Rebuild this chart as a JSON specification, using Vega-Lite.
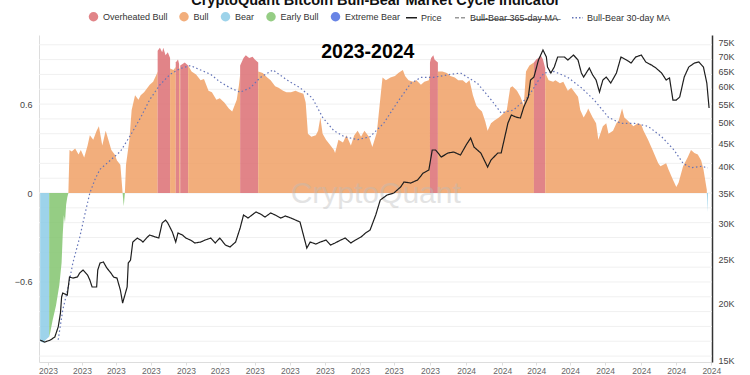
{
  "$schema": "https://vega.github.io/schema/vega-lite/v6.json",
  "width": 673,
  "height": 327,
  "autosize": "none",
  "padding": {"left": 39, "top": 35, "right": 38, "bottom": 13},
  "background": "white",
  "config": {"view": {"stroke": null}, "font": "Liberation Sans", "axis": {"labelOverlap": false}, "axisX": {"labelOverlap": false}},
  "datasets": {
    "ind": [
      {"d":"2022-12-25","v":-1.0,"r":"Bear","s":1},
      {"d":"2022-12-28","v":-1.01,"r":"Bear","s":1},
      {"d":"2022-12-30","v":-0.99,"r":"Bear","s":1},
      {"d":"2023-01-02","v":-0.97,"r":"Bear","s":1},
      {"d":"2023-01-02","v":-0.97,"r":"Early Bull","s":2},
      {"d":"2023-01-03","v":-0.94,"r":"Early Bull","s":2},
      {"d":"2023-01-05","v":-0.86,"r":"Early Bull","s":2},
      {"d":"2023-01-08","v":-0.76,"r":"Early Bull","s":2},
      {"d":"2023-01-11","v":-0.62,"r":"Early Bull","s":2},
      {"d":"2023-01-13","v":-0.47,"r":"Early Bull","s":2},
      {"d":"2023-01-14","v":-0.28,"r":"Early Bull","s":2},
      {"d":"2023-01-15","v":-0.15,"r":"Early Bull","s":2},
      {"d":"2023-01-16","v":-0.2,"r":"Early Bull","s":2},
      {"d":"2023-01-17","v":-0.08,"r":"Early Bull","s":2},
      {"d":"2023-01-18","v":-0.03,"r":"Early Bull","s":2},
      {"d":"2023-01-19","v":0,"r":"Early Bull","s":2},
      {"d":"2023-01-19","v":0,"r":"Bull","s":3},
      {"d":"2023-01-20","v":0.29,"r":"Bull","s":3},
      {"d":"2023-01-22","v":0.28,"r":"Bull","s":3},
      {"d":"2023-01-25","v":0.3,"r":"Bull","s":3},
      {"d":"2023-01-28","v":0.26,"r":"Bull","s":3},
      {"d":"2023-01-30","v":0.29,"r":"Bull","s":3},
      {"d":"2023-02-02","v":0.24,"r":"Bull","s":3},
      {"d":"2023-02-05","v":0.32,"r":"Bull","s":3},
      {"d":"2023-02-07","v":0.39,"r":"Bull","s":3},
      {"d":"2023-02-10","v":0.36,"r":"Bull","s":3},
      {"d":"2023-02-13","v":0.42,"r":"Bull","s":3},
      {"d":"2023-02-15","v":0.45,"r":"Bull","s":3},
      {"d":"2023-02-18","v":0.32,"r":"Bull","s":3},
      {"d":"2023-02-21","v":0.42,"r":"Bull","s":3},
      {"d":"2023-02-23","v":0.37,"r":"Bull","s":3},
      {"d":"2023-02-26","v":0.29,"r":"Bull","s":3},
      {"d":"2023-03-01","v":0.26,"r":"Bull","s":3},
      {"d":"2023-03-03","v":0.22,"r":"Bull","s":3},
      {"d":"2023-03-06","v":0.19,"r":"Bull","s":3},
      {"d":"2023-03-08","v":0,"r":"Bull","s":3},
      {"d":"2023-03-08","v":0,"r":"Early Bull","s":4},
      {"d":"2023-03-09","v":-0.09,"r":"Early Bull","s":4},
      {"d":"2023-03-10","v":0,"r":"Early Bull","s":4},
      {"d":"2023-03-10","v":0,"r":"Bull","s":5},
      {"d":"2023-03-11","v":0.19,"r":"Bull","s":5},
      {"d":"2023-03-14","v":0.36,"r":"Bull","s":5},
      {"d":"2023-03-16","v":0.56,"r":"Bull","s":5},
      {"d":"2023-03-19","v":0.66,"r":"Bull","s":5},
      {"d":"2023-03-22","v":0.63,"r":"Bull","s":5},
      {"d":"2023-03-24","v":0.66,"r":"Bull","s":5},
      {"d":"2023-03-27","v":0.68,"r":"Bull","s":5},
      {"d":"2023-03-30","v":0.71,"r":"Bull","s":5},
      {"d":"2023-04-01","v":0.73,"r":"Bull","s":5},
      {"d":"2023-04-04","v":0.75,"r":"Bull","s":5},
      {"d":"2023-04-07","v":0.8,"r":"Bull","s":5},
      {"d":"2023-04-08","v":0.82,"r":"Bull","s":5},
      {"d":"2023-04-08","v":0.96,"r":"Overheated Bull","s":6},
      {"d":"2023-04-10","v":0.98,"r":"Overheated Bull","s":6},
      {"d":"2023-04-12","v":0.95,"r":"Overheated Bull","s":6},
      {"d":"2023-04-13","v":0.98,"r":"Overheated Bull","s":6},
      {"d":"2023-04-15","v":0.93,"r":"Overheated Bull","s":6},
      {"d":"2023-04-17","v":0.95,"r":"Overheated Bull","s":6},
      {"d":"2023-04-19","v":0.91,"r":"Overheated Bull","s":6},
      {"d":"2023-04-19","v":0.84,"r":"Bull","s":7},
      {"d":"2023-04-22","v":0.83,"r":"Bull","s":7},
      {"d":"2023-04-24","v":0.85,"r":"Bull","s":7},
      {"d":"2023-04-24","v":0.88,"r":"Overheated Bull","s":8},
      {"d":"2023-04-26","v":0.9,"r":"Overheated Bull","s":8},
      {"d":"2023-04-27","v":0.87,"r":"Overheated Bull","s":8},
      {"d":"2023-04-27","v":0.84,"r":"Bull","s":9},
      {"d":"2023-04-28","v":0.84,"r":"Bull","s":9},
      {"d":"2023-04-28","v":0.86,"r":"Overheated Bull","s":10},
      {"d":"2023-05-02","v":0.88,"r":"Overheated Bull","s":10},
      {"d":"2023-05-05","v":0.86,"r":"Overheated Bull","s":10},
      {"d":"2023-05-05","v":0.86,"r":"Bull","s":11},
      {"d":"2023-05-08","v":0.82,"r":"Bull","s":11},
      {"d":"2023-05-12","v":0.8,"r":"Bull","s":11},
      {"d":"2023-05-16","v":0.76,"r":"Bull","s":11},
      {"d":"2023-05-19","v":0.77,"r":"Bull","s":11},
      {"d":"2023-05-23","v":0.69,"r":"Bull","s":11},
      {"d":"2023-05-26","v":0.68,"r":"Bull","s":11},
      {"d":"2023-05-30","v":0.63,"r":"Bull","s":11},
      {"d":"2023-06-02","v":0.64,"r":"Bull","s":11},
      {"d":"2023-06-06","v":0.61,"r":"Bull","s":11},
      {"d":"2023-06-10","v":0.57,"r":"Bull","s":11},
      {"d":"2023-06-13","v":0.55,"r":"Bull","s":11},
      {"d":"2023-06-17","v":0.63,"r":"Bull","s":11},
      {"d":"2023-06-19","v":0.73,"r":"Bull","s":11},
      {"d":"2023-06-20","v":0.8,"r":"Bull","s":11},
      {"d":"2023-06-20","v":0.86,"r":"Overheated Bull","s":12},
      {"d":"2023-06-23","v":0.91,"r":"Overheated Bull","s":12},
      {"d":"2023-06-25","v":0.93,"r":"Overheated Bull","s":12},
      {"d":"2023-06-28","v":0.91,"r":"Overheated Bull","s":12},
      {"d":"2023-07-01","v":0.92,"r":"Overheated Bull","s":12},
      {"d":"2023-07-03","v":0.9,"r":"Overheated Bull","s":12},
      {"d":"2023-07-06","v":0.88,"r":"Overheated Bull","s":12},
      {"d":"2023-07-06","v":0.82,"r":"Bull","s":13},
      {"d":"2023-07-10","v":0.81,"r":"Bull","s":13},
      {"d":"2023-07-14","v":0.78,"r":"Bull","s":13},
      {"d":"2023-07-17","v":0.76,"r":"Bull","s":13},
      {"d":"2023-07-21","v":0.72,"r":"Bull","s":13},
      {"d":"2023-07-24","v":0.71,"r":"Bull","s":13},
      {"d":"2023-07-28","v":0.69,"r":"Bull","s":13},
      {"d":"2023-07-31","v":0.68,"r":"Bull","s":13},
      {"d":"2023-08-04","v":0.68,"r":"Bull","s":13},
      {"d":"2023-08-08","v":0.69,"r":"Bull","s":13},
      {"d":"2023-08-11","v":0.68,"r":"Bull","s":13},
      {"d":"2023-08-15","v":0.67,"r":"Bull","s":13},
      {"d":"2023-08-17","v":0.61,"r":"Bull","s":13},
      {"d":"2023-08-19","v":0.4,"r":"Bull","s":13},
      {"d":"2023-08-22","v":0.38,"r":"Bull","s":13},
      {"d":"2023-08-26","v":0.39,"r":"Bull","s":13},
      {"d":"2023-08-28","v":0.42,"r":"Bull","s":13},
      {"d":"2023-08-30","v":0.51,"r":"Bull","s":13},
      {"d":"2023-09-01","v":0.4,"r":"Bull","s":13},
      {"d":"2023-09-04","v":0.36,"r":"Bull","s":13},
      {"d":"2023-09-08","v":0.32,"r":"Bull","s":13},
      {"d":"2023-09-11","v":0.29,"r":"Bull","s":13},
      {"d":"2023-09-12","v":0.27,"r":"Bull","s":13},
      {"d":"2023-09-15","v":0.36,"r":"Bull","s":13},
      {"d":"2023-09-19","v":0.34,"r":"Bull","s":13},
      {"d":"2023-09-22","v":0.39,"r":"Bull","s":13},
      {"d":"2023-09-26","v":0.32,"r":"Bull","s":13},
      {"d":"2023-09-29","v":0.39,"r":"Bull","s":13},
      {"d":"2023-10-02","v":0.42,"r":"Bull","s":13},
      {"d":"2023-10-05","v":0.38,"r":"Bull","s":13},
      {"d":"2023-10-08","v":0.42,"r":"Bull","s":13},
      {"d":"2023-10-12","v":0.38,"r":"Bull","s":13},
      {"d":"2023-10-15","v":0.31,"r":"Bull","s":13},
      {"d":"2023-10-19","v":0.41,"r":"Bull","s":13},
      {"d":"2023-10-21","v":0.56,"r":"Bull","s":13},
      {"d":"2023-10-24","v":0.78,"r":"Bull","s":13},
      {"d":"2023-10-27","v":0.76,"r":"Bull","s":13},
      {"d":"2023-10-31","v":0.78,"r":"Bull","s":13},
      {"d":"2023-11-04","v":0.79,"r":"Bull","s":13},
      {"d":"2023-11-07","v":0.81,"r":"Bull","s":13},
      {"d":"2023-11-11","v":0.83,"r":"Bull","s":13},
      {"d":"2023-11-13","v":0.79,"r":"Bull","s":13},
      {"d":"2023-11-16","v":0.76,"r":"Bull","s":13},
      {"d":"2023-11-20","v":0.75,"r":"Bull","s":13},
      {"d":"2023-11-23","v":0.76,"r":"Bull","s":13},
      {"d":"2023-11-27","v":0.73,"r":"Bull","s":13},
      {"d":"2023-11-30","v":0.75,"r":"Bull","s":13},
      {"d":"2023-12-04","v":0.76,"r":"Bull","s":13},
      {"d":"2023-12-05","v":0.8,"r":"Bull","s":13},
      {"d":"2023-12-05","v":0.88,"r":"Overheated Bull","s":14},
      {"d":"2023-12-06","v":0.91,"r":"Overheated Bull","s":14},
      {"d":"2023-12-08","v":0.93,"r":"Overheated Bull","s":14},
      {"d":"2023-12-09","v":0.9,"r":"Overheated Bull","s":14},
      {"d":"2023-12-12","v":0.88,"r":"Overheated Bull","s":14},
      {"d":"2023-12-12","v":0.82,"r":"Bull","s":15},
      {"d":"2023-12-16","v":0.82,"r":"Bull","s":15},
      {"d":"2023-12-20","v":0.81,"r":"Bull","s":15},
      {"d":"2023-12-23","v":0.79,"r":"Bull","s":15},
      {"d":"2023-12-27","v":0.78,"r":"Bull","s":15},
      {"d":"2023-12-30","v":0.76,"r":"Bull","s":15},
      {"d":"2024-01-03","v":0.76,"r":"Bull","s":15},
      {"d":"2024-01-06","v":0.74,"r":"Bull","s":15},
      {"d":"2024-01-09","v":0.76,"r":"Bull","s":15},
      {"d":"2024-01-12","v":0.66,"r":"Bull","s":15},
      {"d":"2024-01-15","v":0.59,"r":"Bull","s":15},
      {"d":"2024-01-17","v":0.57,"r":"Bull","s":15},
      {"d":"2024-01-20","v":0.55,"r":"Bull","s":15},
      {"d":"2024-01-23","v":0.48,"r":"Bull","s":15},
      {"d":"2024-01-25","v":0.42,"r":"Bull","s":15},
      {"d":"2024-01-28","v":0.47,"r":"Bull","s":15},
      {"d":"2024-01-31","v":0.49,"r":"Bull","s":15},
      {"d":"2024-02-04","v":0.51,"r":"Bull","s":15},
      {"d":"2024-02-07","v":0.53,"r":"Bull","s":15},
      {"d":"2024-02-11","v":0.56,"r":"Bull","s":15},
      {"d":"2024-02-14","v":0.71,"r":"Bull","s":15},
      {"d":"2024-02-16","v":0.72,"r":"Bull","s":15},
      {"d":"2024-02-20","v":0.69,"r":"Bull","s":15},
      {"d":"2024-02-23","v":0.65,"r":"Bull","s":15},
      {"d":"2024-02-26","v":0.59,"r":"Bull","s":15},
      {"d":"2024-02-28","v":0.82,"r":"Bull","s":15},
      {"d":"2024-03-02","v":0.86,"r":"Bull","s":15},
      {"d":"2024-03-04","v":0.87,"r":"Bull","s":15},
      {"d":"2024-03-06","v":0.88,"r":"Bull","s":15},
      {"d":"2024-03-06","v":0.88,"r":"Overheated Bull","s":16},
      {"d":"2024-03-08","v":0.9,"r":"Overheated Bull","s":16},
      {"d":"2024-03-10","v":0.91,"r":"Overheated Bull","s":16},
      {"d":"2024-03-12","v":0.93,"r":"Overheated Bull","s":16},
      {"d":"2024-03-14","v":0.9,"r":"Overheated Bull","s":16},
      {"d":"2024-03-16","v":0.84,"r":"Overheated Bull","s":16},
      {"d":"2024-03-16","v":0.81,"r":"Bull","s":17},
      {"d":"2024-03-19","v":0.76,"r":"Bull","s":17},
      {"d":"2024-03-23","v":0.75,"r":"Bull","s":17},
      {"d":"2024-03-25","v":0.76,"r":"Bull","s":17},
      {"d":"2024-03-29","v":0.74,"r":"Bull","s":17},
      {"d":"2024-04-01","v":0.75,"r":"Bull","s":17},
      {"d":"2024-04-05","v":0.69,"r":"Bull","s":17},
      {"d":"2024-04-08","v":0.71,"r":"Bull","s":17},
      {"d":"2024-04-10","v":0.69,"r":"Bull","s":17},
      {"d":"2024-04-14","v":0.65,"r":"Bull","s":17},
      {"d":"2024-04-16","v":0.56,"r":"Bull","s":17},
      {"d":"2024-04-19","v":0.51,"r":"Bull","s":17},
      {"d":"2024-04-22","v":0.55,"r":"Bull","s":17},
      {"d":"2024-04-23","v":0.57,"r":"Bull","s":17},
      {"d":"2024-04-27","v":0.51,"r":"Bull","s":17},
      {"d":"2024-04-30","v":0.47,"r":"Bull","s":17},
      {"d":"2024-05-02","v":0.36,"r":"Bull","s":17},
      {"d":"2024-05-06","v":0.45,"r":"Bull","s":17},
      {"d":"2024-05-09","v":0.47,"r":"Bull","s":17},
      {"d":"2024-05-11","v":0.4,"r":"Bull","s":17},
      {"d":"2024-05-15","v":0.42,"r":"Bull","s":17},
      {"d":"2024-05-18","v":0.47,"r":"Bull","s":17},
      {"d":"2024-05-20","v":0.49,"r":"Bull","s":17},
      {"d":"2024-05-23","v":0.57,"r":"Bull","s":17},
      {"d":"2024-05-25","v":0.51,"r":"Bull","s":17},
      {"d":"2024-05-28","v":0.49,"r":"Bull","s":17},
      {"d":"2024-06-02","v":0.45,"r":"Bull","s":17},
      {"d":"2024-06-06","v":0.47,"r":"Bull","s":17},
      {"d":"2024-06-09","v":0.46,"r":"Bull","s":17},
      {"d":"2024-06-11","v":0.42,"r":"Bull","s":17},
      {"d":"2024-06-15","v":0.36,"r":"Bull","s":17},
      {"d":"2024-06-19","v":0.29,"r":"Bull","s":17},
      {"d":"2024-06-24","v":0.2,"r":"Bull","s":17},
      {"d":"2024-06-26","v":0.18,"r":"Bull","s":17},
      {"d":"2024-07-01","v":0.2,"r":"Bull","s":17},
      {"d":"2024-07-03","v":0.16,"r":"Bull","s":17},
      {"d":"2024-07-07","v":0.09,"r":"Bull","s":17},
      {"d":"2024-07-10","v":0.04,"r":"Bull","s":17},
      {"d":"2024-07-12","v":0.07,"r":"Bull","s":17},
      {"d":"2024-07-16","v":0.18,"r":"Bull","s":17},
      {"d":"2024-07-20","v":0.24,"r":"Bull","s":17},
      {"d":"2024-07-23","v":0.29,"r":"Bull","s":17},
      {"d":"2024-07-26","v":0.27,"r":"Bull","s":17},
      {"d":"2024-07-29","v":0.26,"r":"Bull","s":17},
      {"d":"2024-08-01","v":0.22,"r":"Bull","s":17},
      {"d":"2024-08-03","v":0.16,"r":"Bull","s":17},
      {"d":"2024-08-06","v":0.02,"r":"Bull","s":17},
      {"d":"2024-08-06","v":0,"r":"Bear","s":18},
      {"d":"2024-08-07","v":-0.13,"r":"Bear","s":18}
    ],
    "price": [
      {"d":"2022-12-25","p":16600},{"d":"2022-12-29","p":16430},{"d":"2023-01-03","p":16600},{"d":"2023-01-07","p":16860},
      {"d":"2023-01-10","p":17740},{"d":"2023-01-12","p":19040},{"d":"2023-01-13","p":20650},{"d":"2023-01-14","p":21080},
      {"d":"2023-01-18","p":20860},{"d":"2023-01-20","p":22860},{"d":"2023-01-23","p":22740},{"d":"2023-01-27","p":22860},
      {"d":"2023-01-29","p":23330},{"d":"2023-02-01","p":23690},{"d":"2023-02-05","p":23090},{"d":"2023-02-07","p":22510},
      {"d":"2023-02-09","p":21730},{"d":"2023-02-13","p":21730},{"d":"2023-02-14","p":23690},{"d":"2023-02-16","p":24540},
      {"d":"2023-02-19","p":24670},{"d":"2023-02-22","p":23930},{"d":"2023-02-25","p":23450},{"d":"2023-02-28","p":22860},
      {"d":"2023-03-03","p":22740},{"d":"2023-03-06","p":21400},{"d":"2023-03-08","p":20030},{"d":"2023-03-10","p":20860},
      {"d":"2023-03-12","p":21730},{"d":"2023-03-13","p":24540},{"d":"2023-03-15","p":24920},{"d":"2023-03-17","p":27300},
      {"d":"2023-03-21","p":27860},{"d":"2023-03-24","p":27580},{"d":"2023-03-26","p":27300},{"d":"2023-03-30","p":28010},
      {"d":"2023-04-01","p":28290},{"d":"2023-04-06","p":28010},{"d":"2023-04-09","p":27860},{"d":"2023-04-12","p":30070},
      {"d":"2023-04-15","p":30530},{"d":"2023-04-17","p":30070},{"d":"2023-04-21","p":28730},{"d":"2023-04-24","p":27300},
      {"d":"2023-04-26","p":28580},{"d":"2023-04-30","p":28290},{"d":"2023-05-03","p":27860},{"d":"2023-05-07","p":27580},
      {"d":"2023-05-11","p":27170},{"d":"2023-05-16","p":27300},{"d":"2023-05-20","p":27580},{"d":"2023-05-25","p":27860},
      {"d":"2023-05-29","p":27170},{"d":"2023-06-02","p":27860},{"d":"2023-06-07","p":26890},{"d":"2023-06-11","p":26620},
      {"d":"2023-06-16","p":27300},{"d":"2023-06-20","p":29320},{"d":"2023-06-23","p":31320},{"d":"2023-06-27","p":30840},
      {"d":"2023-07-04","p":31800},{"d":"2023-07-08","p":31480},{"d":"2023-07-12","p":31000},{"d":"2023-07-17","p":31640},
      {"d":"2023-07-21","p":31320},{"d":"2023-07-26","p":30840},{"d":"2023-07-30","p":31160},{"d":"2023-08-04","p":30840},
      {"d":"2023-08-08","p":30530},{"d":"2023-08-12","p":30220},{"d":"2023-08-15","p":28290},{"d":"2023-08-18","p":26480},
      {"d":"2023-08-21","p":27300},{"d":"2023-08-26","p":27030},{"d":"2023-08-30","p":27300},{"d":"2023-09-04","p":27580},
      {"d":"2023-09-08","p":26890},{"d":"2023-09-12","p":27170},{"d":"2023-09-17","p":27580},{"d":"2023-09-21","p":27860},
      {"d":"2023-09-26","p":27170},{"d":"2023-09-30","p":27580},{"d":"2023-10-05","p":28010},{"d":"2023-10-09","p":28580},
      {"d":"2023-10-13","p":29020},{"d":"2023-10-18","p":31320},{"d":"2023-10-22","p":33790},{"d":"2023-10-28","p":34660},
      {"d":"2023-11-03","p":35010},{"d":"2023-11-09","p":36100},{"d":"2023-11-12","p":37030},{"d":"2023-11-18","p":36840},
      {"d":"2023-11-24","p":37400},{"d":"2023-11-29","p":38750},{"d":"2023-12-04","p":39350},{"d":"2023-12-07","p":43560},
      {"d":"2023-12-10","p":43560},{"d":"2023-12-15","p":42040},{"d":"2023-12-21","p":42900},{"d":"2023-12-26","p":43120},
      {"d":"2024-01-01","p":42460},{"d":"2024-01-06","p":44680},{"d":"2024-01-10","p":46290},{"d":"2024-01-13","p":44220},
      {"d":"2024-01-19","p":42900},{"d":"2024-01-25","p":39960},{"d":"2024-01-28","p":41400},{"d":"2024-02-03","p":42900},
      {"d":"2024-02-06","p":42900},{"d":"2024-02-08","p":45130},{"d":"2024-02-12","p":49950},{"d":"2024-02-15","p":52030},
      {"d":"2024-02-19","p":51500},{"d":"2024-02-23","p":51240},{"d":"2024-02-26","p":54180},{"d":"2024-03-01","p":57000},
      {"d":"2024-03-03","p":62140},{"d":"2024-03-06","p":63090},{"d":"2024-03-10","p":68780},{"d":"2024-03-14","p":72360},
      {"d":"2024-03-17","p":69840},{"d":"2024-03-18","p":66380},{"d":"2024-03-21","p":64390},{"d":"2024-03-24","p":66380},
      {"d":"2024-03-27","p":69840},{"d":"2024-03-30","p":69840},{"d":"2024-04-02","p":69840},{"d":"2024-04-05","p":68780},
      {"d":"2024-04-08","p":69840},{"d":"2024-04-10","p":70550},{"d":"2024-04-14","p":68780},{"d":"2024-04-17","p":64390},
      {"d":"2024-04-19","p":63090},{"d":"2024-04-24","p":66040},{"d":"2024-04-27","p":63740},{"d":"2024-04-30","p":62140},
      {"d":"2024-05-03","p":58470},{"d":"2024-05-06","p":62140},{"d":"2024-05-09","p":63090},{"d":"2024-05-13","p":61200},
      {"d":"2024-05-18","p":64390},{"d":"2024-05-22","p":69840},{"d":"2024-05-27","p":68780},{"d":"2024-05-31","p":67740},
      {"d":"2024-06-04","p":69840},{"d":"2024-06-09","p":70550},{"d":"2024-06-13","p":68090},{"d":"2024-06-18","p":67060},
      {"d":"2024-06-22","p":66040},{"d":"2024-06-27","p":64390},{"d":"2024-07-01","p":62140},{"d":"2024-07-04","p":62780},
      {"d":"2024-07-07","p":56140},{"d":"2024-07-10","p":56140},{"d":"2024-07-13","p":57000},{"d":"2024-07-17","p":63090},
      {"d":"2024-07-21","p":66380},{"d":"2024-07-26","p":67740},{"d":"2024-07-30","p":68090},{"d":"2024-08-03","p":66380},
      {"d":"2024-08-06","p":61200},{"d":"2024-08-08","p":53910}
    ],
    "ma": [
      {"d":"2023-01-10","v":-0.99},{"d":"2023-01-14","v":-0.79},{"d":"2023-01-19","v":-0.63},{"d":"2023-01-23","v":-0.47},
      {"d":"2023-01-29","v":-0.3},{"d":"2023-02-03","v":-0.13},{"d":"2023-02-07","v":0.0},{"d":"2023-02-12","v":0.1},
      {"d":"2023-02-16","v":0.16},{"d":"2023-02-25","v":0.22},{"d":"2023-03-06","v":0.28},{"d":"2023-03-15","v":0.39},
      {"d":"2023-03-24","v":0.51},{"d":"2023-04-01","v":0.63},{"d":"2023-04-10","v":0.73},{"d":"2023-04-19","v":0.8},
      {"d":"2023-04-28","v":0.84},{"d":"2023-05-07","v":0.86},{"d":"2023-05-16","v":0.83},{"d":"2023-05-25","v":0.8},
      {"d":"2023-06-02","v":0.75},{"d":"2023-06-11","v":0.71},{"d":"2023-06-20","v":0.68},{"d":"2023-06-29","v":0.71},
      {"d":"2023-07-08","v":0.78},{"d":"2023-07-19","v":0.83},{"d":"2023-08-01","v":0.76},{"d":"2023-08-12","v":0.71},
      {"d":"2023-08-23","v":0.64},{"d":"2023-09-01","v":0.51},{"d":"2023-09-11","v":0.42},{"d":"2023-09-20","v":0.38},
      {"d":"2023-10-02","v":0.36},{"d":"2023-10-13","v":0.38},{"d":"2023-10-25","v":0.47},{"d":"2023-11-06","v":0.61},
      {"d":"2023-11-18","v":0.74},{"d":"2023-11-27","v":0.78},{"d":"2023-12-08","v":0.78},{"d":"2023-12-23","v":0.8},
      {"d":"2024-01-01","v":0.81},{"d":"2024-01-16","v":0.74},{"d":"2024-01-28","v":0.63},{"d":"2024-02-06","v":0.54},
      {"d":"2024-02-17","v":0.56},{"d":"2024-03-01","v":0.65},{"d":"2024-03-10","v":0.76},{"d":"2024-03-15","v":0.81},
      {"d":"2024-03-24","v":0.82},{"d":"2024-04-05","v":0.78},{"d":"2024-04-17","v":0.71},{"d":"2024-04-28","v":0.63},
      {"d":"2024-05-11","v":0.51},{"d":"2024-05-22","v":0.47},{"d":"2024-06-03","v":0.47},{"d":"2024-06-15","v":0.45},
      {"d":"2024-06-27","v":0.38},{"d":"2024-07-08","v":0.29},{"d":"2024-07-16","v":0.2},{"d":"2024-07-23","v":0.17},
      {"d":"2024-08-01","v":0.18},{"d":"2024-08-07","v":0.17}
    ],
    "grid": [
      {"g":-1.1,"d":"2022-12-24T00:00:00","d2":"2024-08-10T14:00:00"},{"g":-1.0,"d":"2022-12-24T00:00:00","d2":"2024-08-10T14:00:00"},
      {"g":-0.9,"d":"2022-12-24T00:00:00","d2":"2024-08-10T14:00:00"},{"g":-0.8,"d":"2022-12-24T00:00:00","d2":"2024-08-10T14:00:00"},
      {"g":-0.7,"d":"2022-12-24T00:00:00","d2":"2024-08-10T14:00:00"},{"g":-0.6,"d":"2022-12-24T00:00:00","d2":"2024-08-10T14:00:00"},
      {"g":-0.5,"d":"2022-12-24T00:00:00","d2":"2024-08-10T14:00:00"},{"g":-0.4,"d":"2022-12-24T00:00:00","d2":"2024-08-10T14:00:00"},
      {"g":-0.3,"d":"2022-12-24T00:00:00","d2":"2024-08-10T14:00:00"},{"g":-0.2,"d":"2022-12-24T00:00:00","d2":"2024-08-10T14:00:00"},
      {"g":-0.1,"d":"2022-12-24T00:00:00","d2":"2024-08-10T14:00:00"},{"g":0.0,"d":"2022-12-24T00:00:00","d2":"2024-08-10T14:00:00"},
      {"g":0.1,"d":"2022-12-24T00:00:00","d2":"2024-08-10T14:00:00"},{"g":0.2,"d":"2022-12-24T00:00:00","d2":"2024-08-10T14:00:00"},
      {"g":0.3,"d":"2022-12-24T00:00:00","d2":"2024-08-10T14:00:00"},{"g":0.4,"d":"2022-12-24T00:00:00","d2":"2024-08-10T14:00:00"},
      {"g":0.5,"d":"2022-12-24T00:00:00","d2":"2024-08-10T14:00:00"},{"g":0.6,"d":"2022-12-24T00:00:00","d2":"2024-08-10T14:00:00"},
      {"g":0.7,"d":"2022-12-24T00:00:00","d2":"2024-08-10T14:00:00"},{"g":0.8,"d":"2022-12-24T00:00:00","d2":"2024-08-10T14:00:00"},
      {"g":0.9,"d":"2022-12-24T00:00:00","d2":"2024-08-10T14:00:00"},{"g":1.0,"d":"2022-12-24T00:00:00","d2":"2024-08-10T14:00:00"}
    ],
    "notes": [
      {"label": "CryptoQuant Bitcoin Bull-Bear Market Cycle Indicator", "kind": "title", "d": "2023-10-18", "v": 1.2677},
      {"label": "2023-2024", "kind": "period", "d": "2023-10-11", "v": 0.95},
      {"label": "CryptoQuant", "kind": "watermark", "d": "2023-10-18", "v": -0.01}
    ]
  },
  "encoding": {
    "x": {"field": "d", "type": "temporal",
      "scale": {"domain": [{"year":2022,"month":12,"date":24}, {"year":2024,"month":8,"date":10,"hours":14}]},
      "axis": {"title": null, "format": "%Y", "labelFlush": false, "labelOverlap": false, "labelSeparation": 0, "grid": false,
        "values": [{"year":2023,"month":1,"date":1},{"year":2023,"month":1,"date":31},{"year":2023,"month":3,"date":2},{"year":2023,"month":4,"date":2},{"year":2023,"month":5,"date":3},{"year":2023,"month":6,"date":2},{"year":2023,"month":7,"date":3},{"year":2023,"month":8,"date":3},{"year":2023,"month":9,"date":3},{"year":2023,"month":10,"date":4},{"year":2023,"month":11,"date":3},{"year":2023,"month":12,"date":5},{"year":2024,"month":1,"date":6},{"year":2024,"month":2,"date":7},{"year":2024,"month":3,"date":8},{"year":2024,"month":4,"date":7},{"year":2024,"month":5,"date":8},{"year":2024,"month":6,"date":9},{"year":2024,"month":7,"date":10},{"year":2024,"month":8,"date":10}],
        "labelFontSize": 8.5, "labelColor": "#666666", "tickColor": "#dddddd", "tickSize": 3, "domainColor": "#dddddd", "labelPadding": 1}}
  },
  "layer": [
    {
      "layer": [
        {
          "data": {"name": "grid"},
          "mark": {"type": "rule", "color": "#f0f0f0", "strokeWidth": 1},
          "encoding": {
            "x2": {"field": "d2"},
            "y": {"field": "g", "type": "quantitative", "scale": {"domain": [-1.14, 1.066], "nice": false, "zero": false}}
          }
        },
        {
          "data": {"name": "ind"},
          "mark": {"type": "area", "opacity": 0.85},
          "encoding": {
            "y": {"field": "v", "type": "quantitative", "stack": null,
              "scale": {"domain": [-1.14, 1.066], "nice": false, "zero": false},
              "axis": {"title": null, "orient": "left", "values": [-0.6, 0, 0.6], "format": ".1~f",
                "grid": false, "ticks": false, "domainColor": "#dddddd", "labelPadding": 7, "labelFontSize": 9, "labelColor": "#444444", "labelOverlap": false}},
            "y2": {"datum": 0},
            "detail": {"field": "s", "type": "nominal"},
            "color": {"field": "r", "type": "nominal",
              "scale": {"domain": ["Overheated Bull","Bull","Bear","Early Bull","Extreme Bear"],
                        "range": ["#dc6f73","#f0a065","#8ccbe6","#82c46e","#4e6fe0"]},
              "legend": {"title": null, "orient": "none", "legendX": 49, "legendY": -24, "direction": "horizontal",
                "labelFontSize": 9, "labelColor": "#333333", "symbolType": "circle", "symbolSize": 90, "columnPadding": 10.5, "labelOffset": 4}}
          }
        },
        {
          "data": {"name": "notes"},
          "transform": [{"filter": "datum.kind == 'watermark'"}],
          "mark": {"type": "text", "fontSize": 30, "color": "#bbbbbb", "opacity": 0.4, "align": "center", "baseline": "middle"},
          "encoding": {
            "y": {"field": "v", "type": "quantitative"},
            "text": {"field": "label"}
          }
        },
        {
          "data": {"name": "ma"},
          "mark": {"type": "line", "color": "#6474b8", "strokeDash": [1.5, 2.5], "strokeWidth": 1.2},
          "encoding": {
            "y": {"field": "v", "type": "quantitative", "scale": {"domain": [-1.14, 1.066], "nice": false, "zero": false}}
          }
        },
        {
          "data": {"name": "notes"},
          "transform": [{"filter": "datum.kind == 'period'"}],
          "mark": {"type": "text", "fontSize": 19.5, "fontWeight": "bold", "color": "#000000", "align": "center", "baseline": "middle"},
          "encoding": {
            "y": {"field": "v", "type": "quantitative"},
            "text": {"field": "label"}
          }
        },
        {
          "data": {"name": "notes"},
          "transform": [{"filter": "datum.kind == 'title'"}],
          "mark": {"type": "text", "fontSize": 14.5, "fontWeight": "bold", "color": "#111111", "align": "center", "baseline": "alphabetic"},
          "encoding": {
            "y": {"field": "v", "type": "quantitative"},
            "text": {"field": "label"}
          }
        }
      ]
    },
    {
      "data": {"name": "price"},
      "mark": {"type": "line", "strokeWidth": 1.2},
      "encoding": {
        "y": {"field": "p", "type": "quantitative",
          "scale": {"type": "log", "domain": [14850, 78100], "nice": false},
          "axis": {"title": null, "orient": "right", "values": [15000,20000,25000,30000,35000,40000,45000,50000,55000,60000,65000,70000,75000],
            "labelExpr": "(datum.value/1000) + 'K'", "grid": false, "ticks": false, "domainColor": "#333333", "domainWidth": 1.5,
            "labelPadding": 6, "labelFontSize": 9, "labelColor": "#444444", "labelOverlap": false}},
        "color": {"datum": "Price", "type": "nominal",
          "scale": {"domain": ["Price", "Bull-Bear 365-day MA", "Bull-Bear 30-day MA"], "range": ["#1e1e1e", "#999999", "#6474b8"]},
          "legend": {"title": null, "orient": "none", "legendX": 366, "legendY": -24, "direction": "horizontal",
            "labelFontSize": 9, "labelColor": "#333333", "symbolType": "stroke", "symbolSize": 121, "symbolStrokeWidth": 1.3, "columnPadding": 10, "labelOffset": 3,
            "labelExpr": "datum.value == 'Bull-Bear 365-day MA' ? 'B\u0336u\u0336l\u0336l\u0336-\u0336B\u0336e\u0336a\u0336r\u0336 \u03363\u03366\u03365\u0336-\u0336d\u0336a\u0336y\u0336 \u0336M\u0336A\u0336' : datum.label"}},
        "strokeDash": {"datum": "Price", "type": "nominal",
          "scale": {"domain": ["Price", "Bull-Bear 365-day MA", "Bull-Bear 30-day MA"], "range": [[1, 0], [4, 2], [1.5, 2]]},
          "legend": {"title": null, "orient": "none", "legendX": 366, "legendY": -24, "direction": "horizontal",
            "labelFontSize": 9, "labelColor": "#333333", "symbolType": "stroke", "symbolSize": 121, "symbolStrokeWidth": 1.3, "columnPadding": 10, "labelOffset": 3,
            "labelExpr": "datum.value == 'Bull-Bear 365-day MA' ? 'B\u0336u\u0336l\u0336l\u0336-\u0336B\u0336e\u0336a\u0336r\u0336 \u03363\u03366\u03365\u0336-\u0336d\u0336a\u0336y\u0336 \u0336M\u0336A\u0336' : datum.label"}}
      }
    }
  ],
  "resolve": {"scale": {"y": "independent", "color": "independent", "strokeDash": "independent"}}
}
